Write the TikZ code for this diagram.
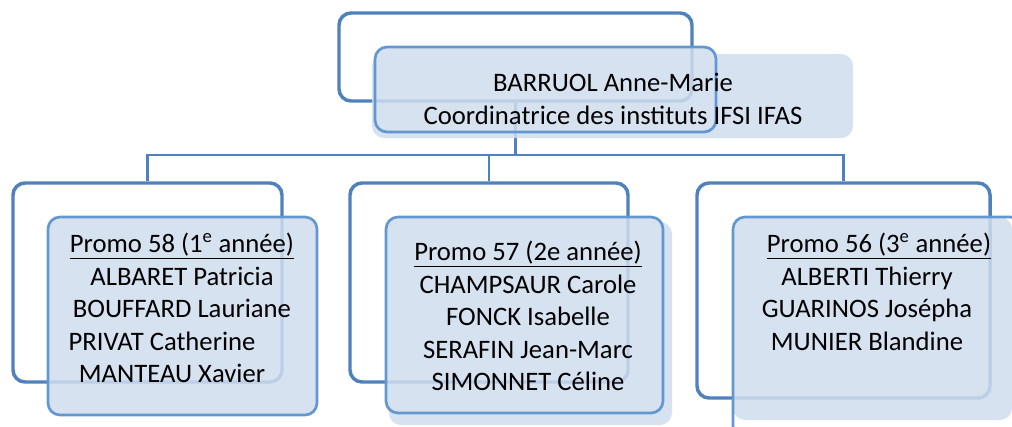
\documentclass[tikz,border=0pt]{standalone}
\usepackage{fontspec}
\setmainfont{Carlito}
\usetikzlibrary{fit}

\definecolor{bleucadre}{RGB}{79,129,189}
\definecolor{bleuboite}{RGB}{208,221,238}
\definecolor{bleubord}{RGB}{98,151,208}

\begin{document}
\begin{tikzpicture}[x=0.75pt, y=-0.75pt,
    cadre/.style={draw=bleucadre, line width=2.6pt, rounded corners=9pt, fill=white, inner sep=0pt},
    lien/.style={draw=bleucadre, line width=2pt},
    fond/.style={fill=bleuboite, fill opacity=0.85, rounded corners=9pt},
    bord/.style={draw=bleubord, line width=2pt, rounded corners=9pt},
    texte/.style={align=center, inner sep=0pt, anchor=north, font=\fontsize{20}{24.4}\selectfont}]
    \useasboundingbox (0,0) rectangle (1012,426);
    \clip (0,0) rectangle (1012,426);

    % Cadres
    \node[cadre, fit={(339,13) (692,101)}] (cadre0) {};
    \node[cadre, fit={(13,183) (282,382)}] (cadre1) {};
    \node[cadre, fit={(350,183) (628,382)}] (cadre2) {};
    \node[cadre, fit={(697,183) (990,398)}] (cadre3) {};

    % Liens
    \coordinate (barre) at (0,155);
    \foreach \i in {1,2,3} {
        \draw[lien] (cadre0.south) -- (cadre0.south |- barre) -| (cadre\i.north);
    }

    % Boites
    \fill[fond] (372,54) rectangle (853,138) (375,47) rectangle (716,132);
    \draw[bord] (375,47) rectangle (716,132);
    \fill[fond] (48,217) rectangle (317,415);
    \draw[bord] (48,217) rectangle (317,415);
    \fill[fond] (386,217) rectangle (663,413) (389,222) rectangle (672,425);
    \draw[bord] (386,217) rectangle (663,413);
    \fill[fond] (733,217) rectangle (1012,420);
    \draw[bord] (733,217) rectangle (1022,438);

    % Textes
    \node[texte] (chef) at (613,73) {BARRUOL Anne-Marie\\Coordinatrice des instituts IFSI IFAS};
    \node[texte] (promo58) at (182,233) {\underline{Promo 58 (1\textsuperscript{e} année)}\\ALBARET Patricia\\BOUFFARD Lauriane\\PRIVAT Catherine\kern30pt\\MANTEAU Xavier\kern15pt};
    \node[texte] (promo57) at (528,241) {\underline{Promo 57 (2e année)}\\CHAMPSAUR Carole\\FONCK Isabelle\\SERAFIN Jean-Marc\\SIMONNET Céline};
    \node[texte] (promo56) at (867,233) {\kern18pt\underline{Promo 56 (3\textsuperscript{e} année)}\\ALBERTI Thierry\\GUARINOS Josépha\\MUNIER Blandine};
\end{tikzpicture}
\end{document}
